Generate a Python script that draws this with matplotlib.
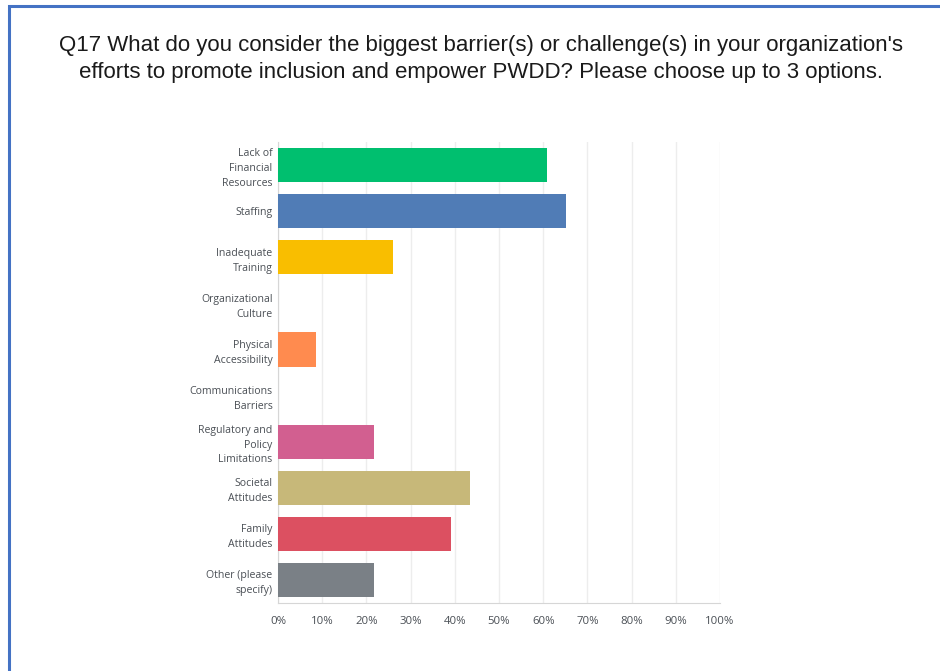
import matplotlib
matplotlib.use("Agg")
import matplotlib.pyplot as plt
from matplotlib.patches import Rectangle
from matplotlib.ticker import FuncFormatter

categories = [
    "Lack of\nFinancial\nResources",
    "Staffing",
    "Inadequate\nTraining",
    "Organizational\nCulture",
    "Physical\nAccessibility",
    "Communications\nBarriers",
    "Regulatory and\nPolicy\nLimitations",
    "Societal\nAttitudes",
    "Family\nAttitudes",
    "Other (please\nspecify)",
]
percentages = [60.87, 65.22, 26.09, 0.0, 8.70, 0.0, 21.74, 43.48, 39.13, 21.74]
bar_colors = ["#00BF6F", "#507CB6", "#F9BE00", "#6BC8CD", "#FF8B4F",
              "#7F7FFF", "#D25F90", "#C7B879", "#DC5061", "#7A8086"]
x_ticks = [0, 10, 20, 30, 40, 50, 60, 70, 80, 90, 100]

title = ("Q17 What do you consider the biggest barrier(s) or challenge(s) in your organization's\n"
         "efforts to promote inclusion and empower PWDD? Please choose up to 3 options.")

fig = plt.figure(figsize=(9.4, 6.71), dpi=100)
fig.patch.set_facecolor("white")

# blue frame along the top and left edges
frame = Rectangle((9 / 940, -0.2), 1.2, 1.2 - 5.5 / 671,
                  transform=fig.transFigure, fill=False,
                  edgecolor="#4472C4", linewidth=2.2, zorder=0)
frame.set_clip_on(False)
fig.patches.append(frame)

fig.text(481 / 940, 1 - 59 / 671, title, ha="center", va="center",
         fontsize=16.0, family="Liberation Sans", color="#1A1A1A",
         linespacing=1.4)

ax = fig.add_axes([278 / 940, 1 - 603 / 671, (720 - 278) / 940, (603 - 142) / 671])
y = list(range(len(categories)))
ax.barh(y, percentages, height=0.74, color=bar_colors, zorder=3)
ax.set_ylim(len(categories) - 0.5, -0.5)
ax.set_xlim(0, 100)
ax.set_xticks(x_ticks)
ax.xaxis.set_major_formatter(FuncFormatter(lambda v, p: f"{int(v)}%"))
ax.set_yticks(y)
ax.set_yticklabels(categories, family="Open Sans", fontsize=7.6, color="#4A4F55",
                   linespacing=1.47)
for lbl in ax.get_xticklabels():
    lbl.set_family("Open Sans")
    lbl.set_fontsize(8.2)
    lbl.set_color("#4A4F55")

ax.grid(axis="x", color="#EDEDED", linewidth=1, zorder=0)
ax.tick_params(axis="both", length=0)
ax.tick_params(axis="x", pad=9)
ax.tick_params(axis="y", pad=4)
for side in ("top", "right"):
    ax.spines[side].set_visible(False)
ax.spines["left"].set_color("#D6D6D6")
ax.spines["bottom"].set_color("#D6D6D6")

fig.savefig("out.png", dpi=100, facecolor="white")
